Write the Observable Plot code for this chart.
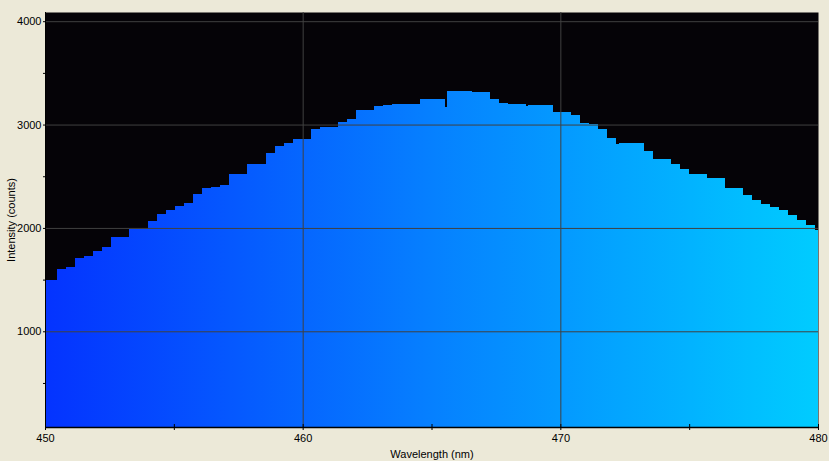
<!DOCTYPE html>
<html>
<head>
<meta charset="utf-8">
<script src="https://cdn.jsdelivr.net/npm/d3@7"></script>
<script src="https://cdn.jsdelivr.net/npm/@observablehq/plot@0.6"></script>
<style>
  html, body { margin: 0; padding: 0; background: #ECE9D8; }
  #chart { width: 829px; height: 461px; }
</style>
</head>
<body>
<div id="chart"></div>
<script>
// Step start wavelengths (nm) and intensities (counts)
const wavelengths = [450.00,450.47,450.81,451.16,451.51,451.86,452.21,452.56,453.26,454.00,
  454.35,454.70,455.04,455.39,455.74,456.09,456.44,456.79,457.14,457.84,
  458.58,458.93,459.27,459.62,460.32,460.67,461.37,461.72,462.07,462.77,
  463.12,463.47,464.55,465.52,465.60,466.57,467.27,467.62,467.97,468.67,
  468.74,469.71,470.41,470.76,471.11,471.46,471.81,472.16,472.27,473.24,
  473.59,474.29,474.64,474.99,475.69,476.39,477.09,477.44,477.79,478.13,
  478.48,478.83,479.18,479.53,479.88];
const counts = [1496,1602,1625,1712,1731,1779,1818,1915,1993,2070,
  2138,2176,2215,2244,2331,2389,2399,2418,2522,2619,
  2725,2793,2822,2860,2957,2977,3025,3054,3141,3180,
  3190,3200,3248,3173,3325,3315,3248,3209,3200,3183,
  3190,3122,3093,3015,3006,2957,2870,2812,2822,2744,
  2667,2619,2570,2522,2483,2386,2318,2270,2231,2202,
  2173,2125,2077,2028,1980];
const xEnd = 480;
const xTicks = [450,455,460,465,470,475,480];
const xLabels = [450,460,470,480];
const xGrid = [460,470];
const yTicks = [500,1000,1500,2000,2500,3000,3500,4000];
const yLabels = [1000,2000,3000,4000];

const bins = wavelengths.map((w, i) => ({
  x1: w,
  x2: i + 1 < wavelengths.length ? wavelengths[i + 1] : xEnd,
  y: counts[i]
}));

const font = "'Liberation Sans', Arial, sans-serif";

const plot = Plot.plot({
  width: 829,
  height: 461,
  marginLeft: 45,
  marginRight: 11,
  marginTop: 12,
  marginBottom: 34,
  style: { background: "#ECE9D8", fontFamily: font, fontSize: "11px", color: "#000" },
  x: { domain: [450, 480] },
  y: { domain: [74, 4089] },
  marks: [
    Plot.frame({ fill: "#050307", stroke: null }),
    Plot.rect(bins, {
      x1: "x1", x2: "x2", y1: () => 0, y2: "y",
      fill: "url(#spec)", clip: true, shapeRendering: "crispEdges"
    }),
    Plot.gridX(xGrid, { stroke: "#404040", strokeOpacity: 1, strokeWidth: 1 }),
    Plot.gridY(yLabels, { stroke: "#404040", strokeOpacity: 1, strokeWidth: 1 }),
    Plot.ruleX([450], { stroke: "#000" }),
    Plot.ruleY([74], { stroke: "#000", strokeWidth: 1.5 }),
    Plot.axisX(xTicks, { tickSize: 6, dy: -3, tickFormat: () => "", label: null, stroke: "#000" }),
    Plot.axisX(xLabels, {
      tickSize: 0, tickPadding: 7, tickFormat: d3.format("d"),
      label: "Wavelength (nm)", labelAnchor: "center", labelArrow: "none", labelOffset: 30,
      fill: "#000"
    }),
    Plot.axisY(yTicks, { tickSize: 2, tickFormat: () => "", label: null, stroke: "#000" }),
    Plot.axisY(yLabels, {
      tickSize: 0, tickPadding: 4, tickFormat: d3.format("d"),
      label: "Intensity (counts)", labelAnchor: "center", labelArrow: "none", labelOffset: 38,
      fill: "#000"
    })
  ]
});

// horizontal spectral gradient spanning the x scale
const xs = plot.scale("x");
const svgNS = "http://www.w3.org/2000/svg";
const defs = document.createElementNS(svgNS, "defs");
const grad = document.createElementNS(svgNS, "linearGradient");
grad.setAttribute("id", "spec");
grad.setAttribute("gradientUnits", "userSpaceOnUse");
grad.setAttribute("x1", xs.apply(450));
grad.setAttribute("x2", xs.apply(480));
grad.setAttribute("y1", 0);
grad.setAttribute("y2", 0);
[["0", "#0433FF"], ["0.5", "#0680FF"], ["1", "#00CCFF"]].forEach(([o, c]) => {
  const s = document.createElementNS(svgNS, "stop");
  s.setAttribute("offset", o);
  s.setAttribute("stop-color", c);
  grad.appendChild(s);
});
defs.appendChild(grad);
plot.insertBefore(defs, plot.firstChild);

document.getElementById("chart").appendChild(plot);
</script>
</body>
</html>
